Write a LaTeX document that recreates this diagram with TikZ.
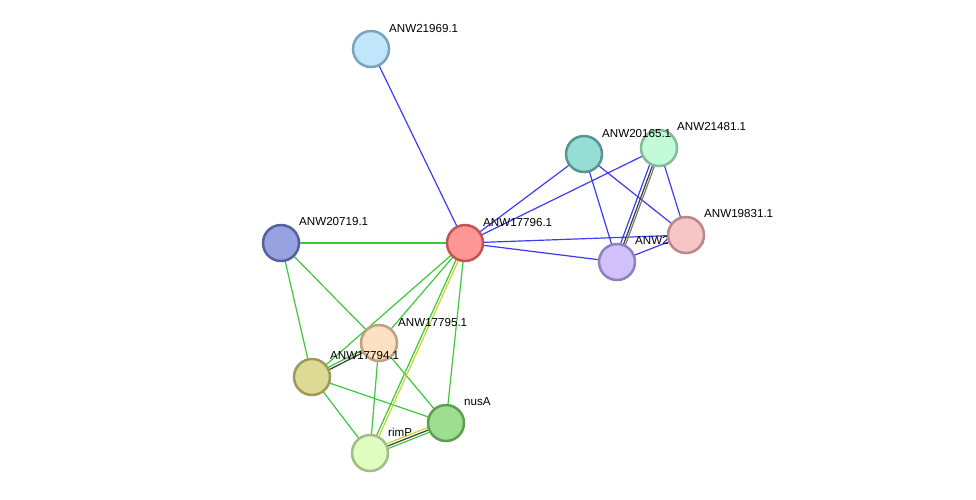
\documentclass[tikz,border=0pt]{standalone}
\usepackage{fontspec}
\setmainfont{Liberation Sans}
\usetikzlibrary{calc,backgrounds}
\definecolor{eblue}{RGB}{60,60,245}
\definecolor{egreen}{RGB}{60,200,60}
\definecolor{eyellow}{RGB}{200,215,40}
\definecolor{edark}{RGB}{60,60,60}
\definecolor{egray}{RGB}{120,120,120}
\newcommand\offedge[4]{\draw[#1] ($(#2)!#4!90:(#3)$) -- ($(#3)!#4!-90:(#2)$);}
\begin{document}
\begin{tikzpicture}[x=1pt,y=-1pt,
  nd/.style={circle,minimum size=36pt,inner sep=0pt,line width=2.5pt},
  lbl/.style={anchor=base west,inner sep=0pt,font=\fontsize{11.6}{13}\selectfont},
  ed/.style={line width=1.2pt}]
\useasboundingbox (0,0) rectangle (976,499);
\node[nd,fill={rgb,255:red,193;green,230;blue,251},draw={rgb,255:red,123;green,163;blue,190}] (a21969) at (371,49) {};
\node[lbl] (t21969) at (389,32) {ANW21969.1};
\node[nd,fill={rgb,255:red,151;green,162;blue,224},draw={rgb,255:red,85;green,96;blue,158}] (a20719) at (281,243) {};
\node[lbl] (t20719) at (299,225) {ANW20719.1};
\node[nd,fill={rgb,255:red,254;green,150;blue,150},draw={rgb,255:red,192;green,85;blue,85}] (a17796) at (465,243) {};
\node[lbl] (t17796) at (483,226) {ANW17796.1};
\node[nd,fill={rgb,255:red,195;green,251;blue,216},draw={rgb,255:red,132;green,187;blue,152}] (a21481) at (659,148) {};
\node[lbl] (t21481) at (677,130) {ANW21481.1};
\node[nd,fill={rgb,255:red,150;green,221;blue,213},draw={rgb,255:red,85;green,151;blue,143}] (a20165) at (584,154) {};
\node[lbl] (t20165) at (602,137) {ANW20165.1};
\node[nd,fill={rgb,255:red,209;green,193;blue,251},draw={rgb,255:red,145;green,127;blue,190}] (ap) at (617,262) {};
\node[lbl] (tp) at (635,244) {ANW20577.1};
\node[nd,fill={rgb,255:red,246;green,198;blue,198},draw={rgb,255:red,185;green,136;blue,136}] (a19831) at (686,235) {};
\node[lbl] (t19831) at (704,217) {ANW19831.1};
\node[nd,fill={rgb,255:red,254;green,224;blue,194},draw={rgb,255:red,192;green,160;blue,130}] (a17795) at (379,343) {};
\node[lbl] (t17795) at (398,326) {ANW17795.1};
\node[nd,fill={rgb,255:red,221;green,218;blue,150},draw={rgb,255:red,156;green,154;blue,86}] (a17794) at (312,377) {};
\node[lbl] (t17794) at (330,359) {ANW17794.1};
\node[nd,fill={rgb,255:red,158;green,222;blue,144},draw={rgb,255:red,94;green,158;blue,80}] (anusA) at (446,423) {};
\node[lbl] (tnusA) at (464,405) {nusA};
\node[nd,fill={rgb,255:red,224;green,253;blue,193},draw={rgb,255:red,160;green,189;blue,130}] (arimP) at (370,453) {};
\node[lbl] (trimP) at (388,436) {rimP};
\begin{pgfonlayer}{background}
\draw[ed,eblue] (a21969.center) -- (a17796.center);
\draw[ed,eblue] (a17796.center) -- (a20165.center);
\draw[ed,eblue] (a17796.center) -- (a21481.center);
\draw[ed,eblue] (a17796.center) -- (a19831.center);
\draw[ed,eblue] (a17796.center) -- (ap.center);
\draw[ed,eblue] (a20165.center) -- (ap.center);
\draw[ed,eblue] (a20165.center) -- (a19831.center);
\draw[ed,eblue] (a21481.center) -- (a19831.center);
\draw[ed,eblue] (ap.center) -- (a19831.center);
\offedge{ed,eblue}{a21481}{ap}{-3pt}
\offedge{ed,edark}{a21481}{ap}{0pt}
\offedge{ed,egray}{a21481}{ap}{2pt}
\draw[ed,egreen] (a20719.center) -- (a17796.center);
\draw[ed,egreen] (a20719.center) -- (a17795.center);
\draw[ed,egreen] (a20719.center) -- (a17794.center);
\draw[ed,egreen] (a17796.center) -- (a17794.center);
\draw[ed,egreen] (a17796.center) -- (a17795.center);
\draw[ed,egreen] (a17796.center) -- (anusA.center);
\draw[ed,egreen] (a17795.center) -- (arimP.center);
\draw[ed,egreen] (a17795.center) -- (anusA.center);
\draw[ed,egreen] (a17794.center) -- (anusA.center);
\draw[ed,egreen] (a17794.center) -- (arimP.center);
\offedge{ed,egreen}{a17796}{arimP}{-1.25pt}
\offedge{ed,eyellow}{a17796}{arimP}{1.25pt}
\offedge{ed,egreen}{a17795}{a17794}{-1.25pt}
\offedge{ed,edark}{a17795}{a17794}{1.25pt}
\offedge{ed,eyellow}{arimP}{anusA}{2.5pt}
\offedge{ed,edark}{arimP}{anusA}{0pt}
\offedge{ed,egreen}{arimP}{anusA}{-2.5pt}
\end{pgfonlayer}
\end{tikzpicture}
\end{document}
